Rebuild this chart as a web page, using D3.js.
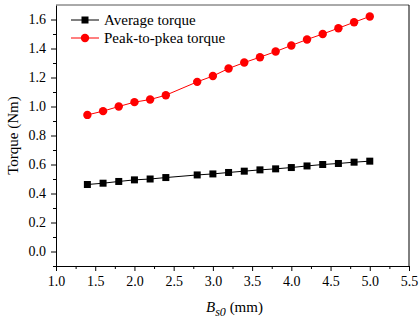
<!DOCTYPE html>
<html lang="en">
<head>
<meta charset="utf-8">
<title>Torque vs Bs0</title>
<style>
  body { margin: 0; background: #fff; }
  text { font-family: "Liberation Serif", "Times New Roman", serif; fill: #000; }
</style>
</head>
<body>
<div id="chart"></div>
<script src="https://cdn.jsdelivr.net/npm/d3@7"></script>
<script>
// data
var bs0 = [1.4, 1.6, 1.8, 2.0, 2.2, 2.4, 2.8, 3.0, 3.2, 3.4, 3.6, 3.8, 4.0, 4.2, 4.4, 4.6, 4.8, 5.0];
var avgTorque = [0.462, 0.471, 0.483, 0.494, 0.500, 0.510, 0.528, 0.535, 0.545, 0.554, 0.563, 0.570, 0.579, 0.590, 0.600, 0.607, 0.616, 0.623];
var peakTorque = [0.942, 0.968, 1.000, 1.030, 1.048, 1.078, 1.170, 1.210, 1.262, 1.303, 1.340, 1.379, 1.421, 1.462, 1.500, 1.540, 1.581, 1.621];
var xTicks = [1.0, 1.5, 2.0, 2.5, 3.0, 3.5, 4.0, 4.5, 5.0, 5.5];
var yTicks = [0.0, 0.2, 0.4, 0.6, 0.8, 1.0, 1.2, 1.4, 1.6];
var seriesNames = ["Average torque", "Peak-to-pkea torque"];

var width = 419, height = 324;
var margin = {top: 5, right: 10, bottom: 58, left: 56};

var svg = d3.select("#chart").append("svg")
    .attr("width", width)
    .attr("height", height);

var x = d3.scaleLinear().domain([1.0, 5.5]).range([margin.left, width - margin.right]);
var y = d3.scaleLinear().domain([-0.1, 1.7]).range([height - margin.bottom, margin.top]);

// minor ticks
var xMinor = d3.range(1.25, 5.5, 0.5);
var yMinor = d3.range(-0.1, 1.7, 0.2);

var gx = svg.append("g")
    .attr("transform", "translate(0," + (height - margin.bottom) + ")")
    .call(d3.axisBottom(x).tickValues(xTicks).tickFormat(d3.format(".1f")).tickSize(5).tickSizeOuter(0));
gx.selectAll("text").attr("font-size", 14).attr("dy", "0.85em");
svg.append("g")
    .attr("transform", "translate(0," + (height - margin.bottom) + ")")
    .call(d3.axisBottom(x).tickValues(xMinor).tickFormat("").tickSize(3).tickSizeOuter(0))
    .select(".domain").remove();

var gy = svg.append("g")
    .attr("transform", "translate(" + margin.left + ",0)")
    .call(d3.axisLeft(y).tickValues(yTicks).tickFormat(d3.format(".1f")).tickSize(5).tickSizeOuter(0));
gy.selectAll("text").attr("font-size", 14).attr("dx", "-0.15em");
svg.append("g")
    .attr("transform", "translate(" + margin.left + ",0)")
    .call(d3.axisLeft(y).tickValues(yMinor).tickFormat("").tickSize(3).tickSizeOuter(0))
    .select(".domain").remove();

svg.selectAll(".domain, .tick line").attr("stroke", "#000");

// frame top and right
svg.append("line")
    .attr("x1", x(1.0)).attr("x2", x(5.5))
    .attr("y1", y(1.7)).attr("y2", y(1.7))
    .attr("stroke", "#555");
svg.append("line")
    .attr("x1", x(5.5)).attr("x2", x(5.5))
    .attr("y1", y(1.7)).attr("y2", y(-0.1))
    .attr("stroke", "#000");

// axis titles
svg.append("text")
    .attr("transform", "translate(18," + ((margin.top + height - margin.bottom) / 2) + ") rotate(-90)")
    .attr("text-anchor", "middle")
    .attr("font-size", 15)
    .text("Torque (Nm)");

var xt = svg.append("text")
    .attr("x", (x(1.0) + x(5.5)) / 2 + 2)
    .attr("y", 312)
    .attr("text-anchor", "middle")
    .attr("font-size", 15);
xt.append("tspan").attr("font-style", "italic").text("B");
xt.append("tspan").attr("font-style", "italic").attr("font-size", 12).attr("dy", 4).text("s0");
xt.append("tspan").attr("dy", -4).text(" (mm)");

var line = d3.line()
    .x(function(d) { return x(d[0]); })
    .y(function(d) { return y(d[1]); });

var avgPts = bs0.map(function(v, i) { return [v, avgTorque[i]]; });
var peakPts = bs0.map(function(v, i) { return [v, peakTorque[i]]; });

svg.append("path").datum(avgPts)
    .attr("fill", "none").attr("stroke", "#000").attr("stroke-width", 1)
    .attr("d", line);
svg.selectAll(".sq").data(avgPts).enter().append("rect")
    .attr("class", "sq")
    .attr("x", function(d) { return x(d[0]) - 3.5; })
    .attr("y", function(d) { return y(d[1]) - 3.5; })
    .attr("width", 7).attr("height", 7)
    .attr("fill", "#000");

svg.append("path").datum(peakPts)
    .attr("fill", "none").attr("stroke", "#f00").attr("stroke-width", 1)
    .attr("d", line);
svg.selectAll(".dot").data(peakPts).enter().append("circle")
    .attr("class", "dot")
    .attr("cx", function(d) { return x(d[0]); })
    .attr("cy", function(d) { return y(d[1]); })
    .attr("r", 4.2)
    .attr("fill", "#f00");

// legend
var legend = svg.append("g");
var legendColors = ["#000", "#f00"];
seriesNames.forEach(function(name, i) {
  var ly = 20 + i * 18;
  legend.append("line")
      .attr("x1", 71).attr("x2", 99)
      .attr("y1", ly).attr("y2", ly)
      .attr("stroke", legendColors[i]);
  if (i === 0) {
    legend.append("rect").attr("x", 85 - 3.5).attr("y", ly - 3.5)
        .attr("width", 7).attr("height", 7).attr("fill", "#000");
  } else {
    legend.append("circle").attr("cx", 85).attr("cy", ly).attr("r", 4.2).attr("fill", "#f00");
  }
  legend.append("text")
      .attr("x", 104).attr("y", ly + 5)
      .attr("font-size", 15)
      .text(name);
});
</script>
</body>
</html>
